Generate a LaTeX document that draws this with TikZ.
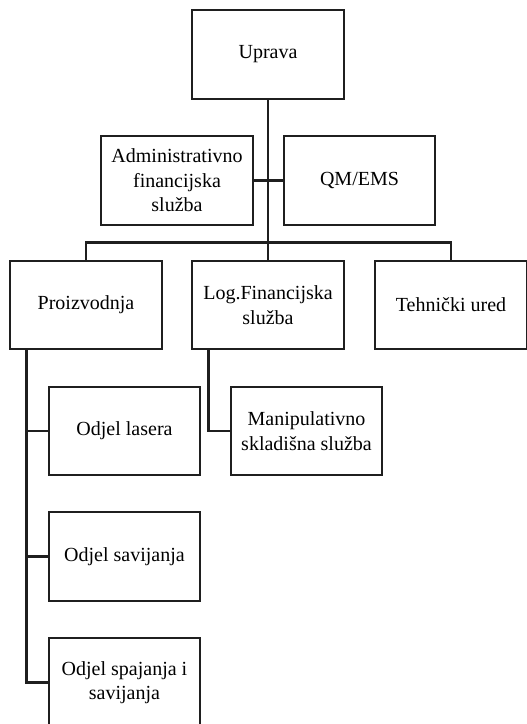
\documentclass[tikz,border=0pt]{standalone}
\usepackage{fontspec}
\setmainfont{Liberation Serif}
\usetikzlibrary{calc}
\begin{document}
\begin{tikzpicture}[x=0.75pt,y=-0.75pt,
  unit/.style={draw=black!88, line width=1.6pt, fill=white, inner sep=0pt,
    minimum width=113.5pt, minimum height=66.5pt, align=center,
    font=\fontsize{15pt}{18.4pt}\selectfont},
  link/.style={draw=black!88, line width=2.1pt}]
  \useasboundingbox (0,0) rectangle (527,724);
  \clip (0,0) rectangle (527,724);

  % top management and staff units
  \node[unit] (upr) at (268,54.5) {Uprava};
  \node[unit] (adm) at (177,180.5) {Administrativno\\financijska\\služba};
  \node[unit] (qm)  at (359.5,180.5) {QM/EMS};

  % main departments
  \node[unit] (pro) at (86,305) {Proizvodnja};
  \node[unit] (log) at (268,305) {Log.Financijska\\služba};
  \node[unit] (teh) at (451,305) {Tehnički ured};

  % sub-departments
  \node[unit] (las) at (124.5,431) {Odjel lasera};
  \node[unit] (man) at (306.5,431) {Manipulativno\\skladišna služba};
  \node[unit] (sav) at (124.5,556.5) {Odjel savijanja};
  \node[unit] (spa) at (124.5,682.5) {Odjel spajanja i\\savijanja};

  % trunk and staff branch
  \draw[link] (upr.south) -- (log.north);
  \draw[link] (adm.east) -- (qm.west);

  % bar over the main departments
  \draw[link] (pro.north) -- ++(0,-17) -| (teh.north);

  % production branch
  \coordinate (pb) at ($(pro.south west)+(17,0)$);
  \draw[link] (pb) |- (spa.west);
  \draw[link] (pb |- las.west) -- (las.west);
  \draw[link] (pb |- sav.west) -- (sav.west);

  % logistics branch
  \coordinate (lb) at ($(log.south west)+(17,0)$);
  \draw[link] (lb) |- (man.west);
\end{tikzpicture}
\end{document}
